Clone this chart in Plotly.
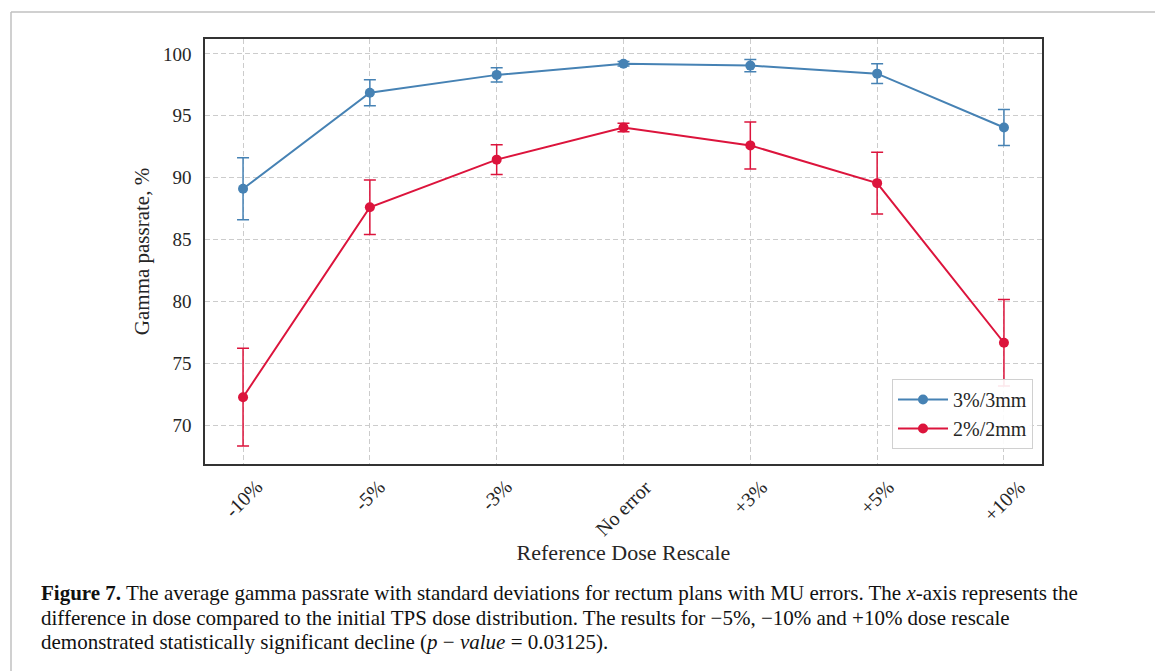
import plotly.graph_objects as go

categories = ["-10%", "-5%", "-3%", "No error", "+3%", "+5%", "+10%"]
gamma_3mm = [89.1, 96.85, 98.3, 99.2, 99.05, 98.4, 94.05]
gamma_3mm_sd = [2.5, 1.05, 0.57, 0.18, 0.5, 0.8, 1.45]
gamma_2mm = [72.25, 87.6, 91.45, 94.05, 92.6, 89.55, 76.65]
gamma_2mm_sd = [3.95, 2.2, 1.2, 0.35, 1.9, 2.5, 3.5]
y_ticks = [70, 75, 80, 85, 90, 95, 100]
caption_lines = [
    "<b>Figure 7.</b> The average gamma passrate with standard deviations for rectum plans with MU errors. "
    "The <i>x</i>-axis represents the",
    "difference in dose compared to the initial TPS dose distribution. "
    "The results for −5%, −10% and +10% dose rescale",
    "demonstrated statistically significant decline (<i>p</i> − <i>value</i> = 0.03125).",
]

FONT = "Liberation Serif"
BLUE = "#4682b4"
RED = "#dc143c"

W, H = 1155, 671
L, R, T, B = 205, 1042, 39, 464

def px_x(p):
    return (p - L) / (R - L)

def px_y(p):
    return (B - p) / (B - T)

fig = go.Figure()
for name, vals, sd, col in [("3%/3mm", gamma_3mm, gamma_3mm_sd, BLUE),
                            ("2%/2mm", gamma_2mm, gamma_2mm_sd, RED)]:
    fig.add_trace(go.Scatter(
        x=categories, y=vals, name=name, mode="lines+markers",
        line=dict(color=col, width=2),
        marker=dict(color=col, size=10),
        error_y=dict(type="data", array=sd, visible=True, color=col,
                     thickness=1.5, width=6),
    ))

annotations = []
for c in categories:
    annotations.append(dict(
        x=c, xref="x", y=px_y(473), yref="paper", text=c, showarrow=False,
        textangle=-45, xanchor="center", yanchor="top",
        font=dict(family=FONT, size=20, color="#262626"),
    ))

for i, line in enumerate(caption_lines):
    annotations.append(dict(
        x=px_x(39), y=px_y(593 + 24.5 * i), xref="paper", yref="paper", text=line,
        showarrow=False, xanchor="left", yanchor="middle", align="left",
        font=dict(family=FONT, size=21, color="#111111"),
    ))

shapes = [
    dict(type="line", xref="paper", yref="paper", x0=px_x(11), x1=px_x(1160),
         y0=px_y(12), y1=px_y(12), line=dict(color="#c0c0c0", width=1.5)),
    dict(type="line", xref="paper", yref="paper", x0=px_x(11), x1=px_x(11),
         y0=px_y(12), y1=px_y(680), line=dict(color="#c0c0c0", width=1.5)),
]

fig.update_layout(
    width=W, height=H,
    margin=dict(l=L, r=W - R, t=T, b=H - B),
    paper_bgcolor="white", plot_bgcolor="white",
    font=dict(family=FONT, size=19, color="#262626"),
    showlegend=True,
    legend=dict(x=px_x(1033), y=px_y(449), xanchor="right", yanchor="bottom",
                bgcolor="rgba(255,255,255,0.9)", bordercolor="#d0d0d0", borderwidth=1,
                itemwidth=50,
                font=dict(family=FONT, size=20, color="#262626")),
    annotations=annotations,
    shapes=shapes,
)
fig.update_xaxes(
    type="category", categoryorder="array", categoryarray=categories,
    range=[-0.3, 6.3], showticklabels=False,
    showgrid=True, gridcolor="#cccccc", griddash="5px,3px", gridwidth=1,
    showline=True, linecolor="#333333", linewidth=1.5, mirror=True,
    title=dict(text="Reference Dose Rescale", font=dict(family=FONT, size=22, color="#262626"),
               standoff=80),
)
fig.update_yaxes(
    range=[66.85, 101.2], tickvals=y_ticks,
    ticks="outside", ticklen=8, tickcolor="rgba(0,0,0,0)",
    tickfont=dict(family=FONT, size=19, color="#262626"),
    showgrid=True, gridcolor="#cccccc", griddash="5px,3px", gridwidth=1,
    zeroline=False,
    showline=True, linecolor="#333333", linewidth=1.5, mirror=True,
    title=dict(text="Gamma passrate, %", font=dict(family=FONT, size=21, color="#262626"),
               standoff=8),
)

fig.write_html("out.html")
